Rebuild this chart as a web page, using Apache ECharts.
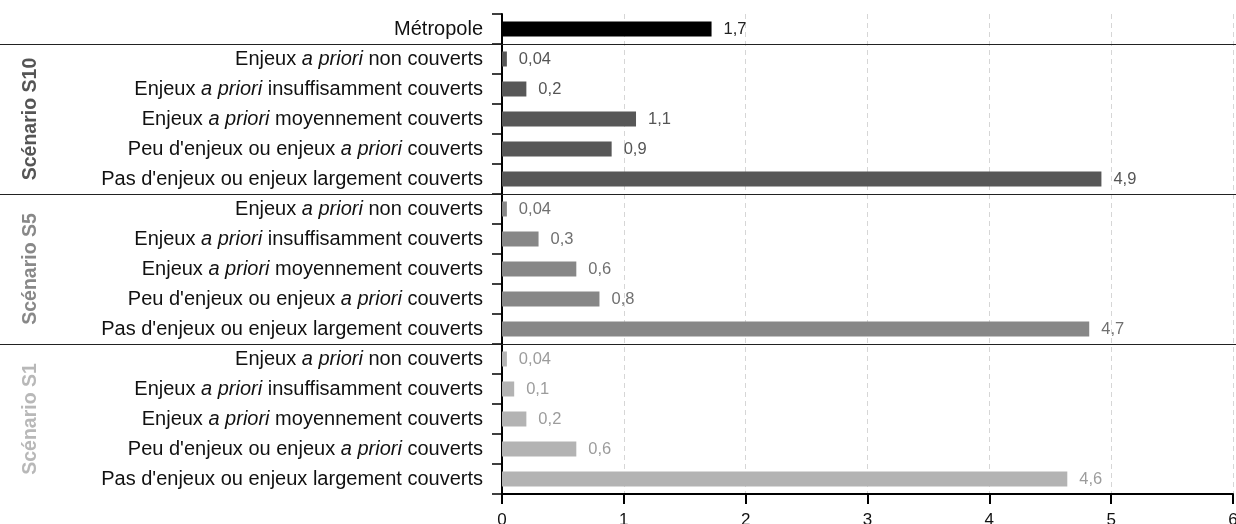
<!DOCTYPE html>
<html>
<head>
<meta charset="utf-8">
<script src="https://cdn.jsdelivr.net/npm/echarts@6/dist/echarts.min.js"></script>
<style>
html,body{margin:0;padding:0;background:#fff;}
#chart{width:1236px;height:524px;}
</style>
</head>
<body>
<div id="chart"></div>
<script>
// ---- data ----
const metropoleName = 'Métropole';
const metropoleValue = 1.72;
const metropoleLabel = '1,7';
const riskLevels = [
  'Enjeux a priori non couverts',
  'Enjeux a priori insuffisamment couverts',
  'Enjeux a priori moyennement couverts',
  "Peu d'enjeux ou enjeux a priori couverts",
  "Pas d'enjeux ou enjeux largement couverts"
];
const scenarios = ['Scénario S10', 'Scénario S5', 'Scénario S1'];
const valuesS10 = [0.04, 0.2, 1.1, 0.9, 4.92];
const valuesS5  = [0.04, 0.3, 0.61, 0.8, 4.82];
const valuesS1  = [0.04, 0.1, 0.2, 0.61, 4.64];
const labelsS10 = ['0,04', '0,2', '1,1', '0,9', '4,9'];
const labelsS5  = ['0,04', '0,3', '0,6', '0,8', '4,7'];
const labelsS1  = ['0,04', '0,1', '0,2', '0,6', '4,6'];
const xMin = 0, xMax = 6, xStep = 1;

// ---- styles ----
const FONT = '"Liberation Sans", Arial, Helvetica, sans-serif';
const barColors = ['#000000', '#575757', '#878787', '#b3b3b3'];
const valueLabelColors = ['#222222', '#555555', '#707070', '#9c9c9c'];
const titleColors = ['#555555', '#888888', '#b8b8b8'];

// ---- build ----
const groupValues = [valuesS10, valuesS5, valuesS1];
const groupLabels = [labelsS10, labelsS5, labelsS1];
const categories = [metropoleName];
const barData = [{value: metropoleValue, itemStyle: {color: barColors[0]}, label: {color: valueLabelColors[0]}}];
const valueLabels = [metropoleLabel];
groupValues.forEach((vals, g) => {
  vals.forEach((v, i) => {
    categories.push(riskLevels[i]);
    barData.push({value: v, itemStyle: {color: barColors[g + 1]}, label: {color: valueLabelColors[g + 1]}});
    valueLabels.push(groupLabels[g][i]);
  });
});

const chart = echarts.init(document.getElementById('chart'), null, {renderer: 'canvas'});
chart.setOption({
  animation: false,
  backgroundColor: '#ffffff',
  textStyle: {fontFamily: FONT},
  grid: {left: 502, right: 3, top: 14, bottom: 30, containLabel: false, outerBoundsMode: 'none'},
  xAxis: {
    type: 'value', min: xMin, max: xMax, interval: xStep,
    axisLine: {show: true, lineStyle: {color: '#000', width: 2}},
    axisTick: {show: true, length: 10, lineStyle: {color: '#000', width: 2}},
    axisLabel: {margin: 18, fontSize: 17, color: '#111', fontFamily: FONT},
    splitLine: {show: true, lineStyle: {color: '#d6d6d6', width: 1, type: [5, 4]}}
  },
  yAxis: {
    type: 'category', data: categories, inverse: true,
    axisLine: {show: true, lineStyle: {color: '#000', width: 2}},
    axisTick: {show: true, length: 10, lineStyle: {color: '#000', width: 1.5}},
    axisLabel: {
      margin: 19, fontSize: 20, color: '#111', fontFamily: FONT, interval: 0,
      formatter: (v) => v.replace('a priori', '{i|a priori}'),
      rich: {i: {fontStyle: 'italic', fontSize: 20, color: '#111', fontFamily: FONT}}
    },
    splitLine: {show: false}
  },
  series: [{
    type: 'bar', data: barData, barWidth: 15,
    label: {
      show: true, position: 'right', distance: 12, fontSize: 16.5, fontFamily: FONT,
      formatter: (p) => valueLabels[p.dataIndex]
    }
  }]
});

// separators and scenario titles, positioned through the category scale
function pix(i) { return chart.convertToPixel({yAxisIndex: 0}, i); }
const W = chart.getWidth();
const graphics = [];
const boundaries = [0, 5, 10];
boundaries.forEach((b) => {
  const y = Math.round((pix(b) + pix(b + 1)) / 2) + 0.5;
  graphics.push({type: 'line', shape: {x1: 0, y1: y, x2: W, y2: y}, style: {stroke: '#222', lineWidth: 1.2}, z: 10});
});
scenarios.forEach((name, g) => {
  const yc = (pix(1 + g * 5) + pix(5 + g * 5)) / 2;
  graphics.push({
    type: 'text', x: 31, y: yc, rotation: Math.PI / 2,
    style: {text: name, fill: titleColors[g], font: 'bold 19.5px ' + FONT, textAlign: 'center', textVerticalAlign: 'middle'},
    z: 10
  });
});
chart.setOption({graphic: graphics});
</script>
</body>
</html>
